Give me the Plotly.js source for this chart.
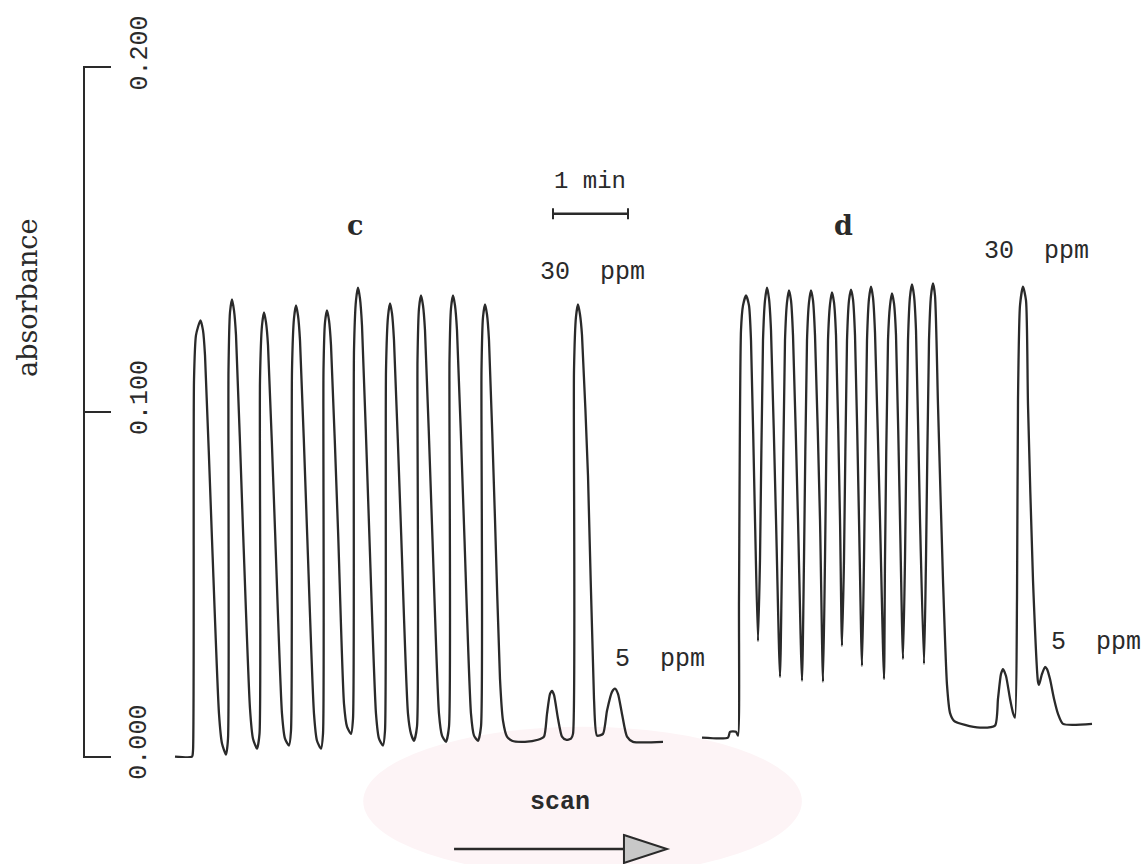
<!DOCTYPE html>
<html>
<head>
<meta charset="utf-8">
<script src="https://cdn.plot.ly/plotly-3.0.1.min.js"></script>
<style>html,body{margin:0;padding:0;background:#fff;}#chart{width:1147px;height:864px;}</style>
</head>
<body>
<div id="chart"></div>
<script>
// ---- data: time in seconds, absorbance ----
// run c: ten repeated 30 ppm injections, then 5 ppm, 30 ppm, 5 ppm
const cTime = [0,13.6,14.4,15.2,16.8,20.4,22.4,24.0,29.6,35.2,37.6,40.8,
  42.4,42.8,44.0,45.6,47.2,48.8,54.4,60.0,62.4,65.6,
  67.6,68.0,69.6,71.2,72.8,74.4,80.0,85.6,88.0,91.2,
  92.8,93.6,95.2,96.8,98.4,100.0,105.6,111.2,113.6,116.8,
  118.4,118.8,120.0,121.6,123.2,124.8,130.4,135.2,137.6,140.8,
  142.4,143.2,144.8,146.4,148.0,149.6,155.2,160.8,163.2,166.4,
  168.0,168.8,170.4,172.0,173.6,175.2,180.8,186.4,188.8,191.2,
  193.6,194.0,195.2,196.8,198.4,200.0,205.6,211.2,213.6,216.8,
  219.2,219.6,220.8,222.4,224.0,225.6,231.2,236.8,239.2,242.4,
  244.8,245.2,246.4,248.0,249.6,251.2,256.0,260.0,262.4,265.6,269.6,280.0,290.4,
  295.2,297.6,300.0,301.6,303.2,306.4,309.6,312.8,316.8,
  318.4,319.2,320.8,322.4,324.0,325.6,330.4,335.2,337.6,
  342.4,345.6,349.6,352.0,354.4,357.6,361.6,366.4,390.4];
const cAbs = [0,0,0.0017,0.1092,0.1223,0.1266,0.1237,0.1165,0.0630,0.0124,0.0038,0.0006,
  0.0052,0.1121,0.1289,0.1327,0.1295,0.1223,0.0659,0.0139,0.0052,0.0023,
  0.0066,0.1092,0.1251,0.1289,0.1260,0.1194,0.0659,0.0124,0.0052,0.0032,
  0.0075,0.1121,0.1272,0.1309,0.1280,0.1208,0.0659,0.0124,0.0046,0.0023,
  0.0066,0.1121,0.1260,0.1295,0.1266,0.1194,0.0659,0.0153,0.0087,0.0066,
  0.0110,0.1179,0.1324,0.1361,0.1329,0.1251,0.0673,0.0124,0.0052,0.0032,
  0.0075,0.1121,0.1277,0.1315,0.1286,0.1208,0.0659,0.0124,0.0066,0.0046,
  0.0087,0.1150,0.1301,0.1338,0.1309,0.1237,0.0673,0.0124,0.0061,0.0043,
  0.0087,0.1150,0.1301,0.1338,0.1309,0.1237,0.0673,0.0124,0.0061,0.0046,
  0.0087,0.1121,0.1275,0.1312,0.1283,0.1208,0.0688,0.0225,0.0104,0.0058,0.0046,0.0043,0.0049,
  0.0058,0.0124,0.0182,0.0191,0.0179,0.0110,0.0058,0.0049,0.0052,
  0.0066,0.1121,0.1277,0.1312,0.1283,0.1223,0.0815,0.0168,0.0061,
  0.0066,0.0133,0.0188,0.0197,0.0182,0.0124,0.0058,0.0043,0.0043];

// run d: ten repeated 30 ppm injections (faster), then 5 ppm, 30 ppm, 5 ppm
const dTime = [421.6,442.4,444.0,448.8,450.4,451.2,452.8,454.4,456.8,459.2,460.8,464.0,466.4,
  468.0,470.4,472.0,473.6,475.2,476.8,480.8,484.0,
  485.6,488.0,489.6,491.2,492.8,494.4,498.4,501.6,
  503.2,505.6,507.2,508.8,510.4,512.0,516.0,518.4,
  520.0,522.4,524.0,525.6,527.2,528.8,532.0,533.6,
  535.2,537.6,539.2,540.8,542.4,544.0,547.2,549.6,
  551.2,553.6,555.2,556.8,558.4,560.0,564.0,567.2,
  568.0,570.4,572.0,573.6,575.2,576.8,580.0,582.4,
  584.0,586.4,588.0,589.6,591.2,592.8,596.0,599.2,
  600.8,603.2,604.8,606.4,608.0,610.4,614.4,617.6,620.0,623.2,632.0,644.0,656.0,
  658.4,660.8,662.4,664.8,668.0,670.4,672.0,
  673.6,674.4,676.0,678.4,680.8,682.4,686.4,690.4,691.2,
  693.6,696.0,697.6,700.0,703.2,706.4,710.4,733.6];
const dAbs = [0.0055,0.0055,0.0072,0.0072,0.0061,0.0457,0.1237,0.1309,0.1338,0.1309,0.1208,0.0688,0.0335,
  0.0572,0.1208,0.1324,0.1361,0.1329,0.1237,0.0688,0.0231,
  0.0572,0.1208,0.1318,0.1353,0.1324,0.1223,0.0688,0.0220,
  0.0572,0.1208,0.1318,0.1353,0.1324,0.1223,0.0688,0.0217,
  0.0572,0.1208,0.1312,0.1347,0.1318,0.1223,0.0688,0.0321,
  0.0572,0.1208,0.1324,0.1355,0.1327,0.1223,0.0688,0.0263,
  0.0572,0.1208,0.1329,0.1364,0.1332,0.1231,0.0688,0.0225,
  0.0572,0.1208,0.1309,0.1344,0.1315,0.1223,0.0688,0.0283,
  0.0572,0.1208,0.1335,0.1370,0.1338,0.1237,0.0688,0.0269,
  0.0572,0.1208,0.1338,0.1373,0.1338,0.1020,0.0512,0.0208,0.0127,0.0104,0.0092,0.0084,0.0090,
  0.0168,0.0240,0.0254,0.0234,0.0168,0.0127,0.0113,
  0.0457,0.1035,0.1309,0.1364,0.1324,0.1020,0.0512,0.0217,0.0208,
  0.0240,0.0260,0.0254,0.0225,0.0168,0.0124,0.0095,0.0095];

const yTickVals = [0, 0.1, 0.2];
const yTickText = ['0.000', '0.100', '0.200'];
const scaleBarStart = 302.4;   // s
const scaleBarLength = 60;     // 1 min
const runLabels = ['c', 'd'];
const concLabels = ['30\u00a0\u00a0ppm', '5\u00a0\u00a0ppm'];

const ink = '#2a2a2a';
const mono = 'Liberation Mono, DejaVu Sans Mono, monospace';
const serif = 'DejaVu Serif, Liberation Serif, serif';

const traces = [
  {x: cTime, y: cAbs, type: 'scatter', mode: 'lines', name: 'c',
   line: {color: ink, width: 2.3, shape: 'spline', smoothing: 0.6}, hoverinfo: 'skip'},
  {x: dTime, y: dAbs, type: 'scatter', mode: 'lines', name: 'd',
   line: {color: ink, width: 2.3, shape: 'spline', smoothing: 0.6}, hoverinfo: 'skip'}
];

const tickLabelAnnotations = yTickVals.map((v, i) => ({
  xref: 'paper', yref: 'y', x: 0.0518, y: v, yshift: 14, xanchor: 'center', yanchor: 'middle',
  text: yTickText[i], textangle: -90,
  showarrow: false, font: {family: mono, size: 25, color: ink}
}));

const barY = 0.1575, capH = 0.0016;
const layout = {
  width: 1147, height: 864,
  margin: {l: 85, r: 0, t: 66, b: 106},
  paper_bgcolor: '#ffffff', plot_bgcolor: 'rgba(0,0,0,0)',
  showlegend: false,
  xaxis: {range: [-72, 777.6], visible: false, fixedrange: true},
  yaxis: {range: [-0.0004, 0.2004], tickvals: yTickVals, ticktext: yTickText,
    ticks: 'inside', ticklen: 26, tickwidth: 2, tickcolor: ink,
    showline: true, linecolor: ink, linewidth: 2, showgrid: false, zeroline: false,
    showticklabels: false, fixedrange: true},
  shapes: [
    {type: 'circle', xref: 'paper', yref: 'paper', x0: 0.262, x1: 0.675, y0: 0.045, y1: -0.17,
     fillcolor: '#fdf4f6', line: {width: 0}, layer: 'below'},
    {type: 'line', xref: 'x', yref: 'y', x0: scaleBarStart, x1: scaleBarStart + scaleBarLength, y0: barY, y1: barY,
     line: {color: ink, width: 2.5}},
    {type: 'line', xref: 'x', yref: 'y', x0: scaleBarStart, x1: scaleBarStart, y0: barY - capH, y1: barY + capH,
     line: {color: ink, width: 2}},
    {type: 'line', xref: 'x', yref: 'y', x0: scaleBarStart + scaleBarLength, x1: scaleBarStart + scaleBarLength, y0: barY - capH, y1: barY + capH,
     line: {color: ink, width: 2}},
    {type: 'line', xref: 'paper', yref: 'paper', x0: 0.3475, x1: 0.512, y0: -0.1315, y1: -0.1315,
     line: {color: ink, width: 2.5}},
    {type: 'path', xref: 'paper', yref: 'paper', path: 'M 0.5075 -0.1113 L 0.5480 -0.1315 L 0.5075 -0.1517 Z',
     fillcolor: '#c8c8c8', line: {color: ink, width: 2}}
  ],
  annotations: tickLabelAnnotations.concat([
    {xref: 'paper', yref: 'paper', x: -0.0536, y: 0.665, xanchor: 'center', yanchor: 'middle',
     text: 'absorbance', textangle: -90, showarrow: false,
     font: {family: serif, size: 27, color: ink}},
    {xref: 'x', yref: 'y', x: 144, y: 0.154, text: runLabels[0], showarrow: false,
     font: {family: serif, size: 27, color: ink, weight: 'bold'}},
    {xref: 'x', yref: 'y', x: 534.4, y: 0.154, text: runLabels[1], showarrow: false,
     font: {family: serif, size: 27, color: ink, weight: 'bold'}},
    {xref: 'x', yref: 'y', x: 332, y: 0.167, text: '1 min', showarrow: false,
     font: {family: mono, size: 24, color: ink}},
    {xref: 'x', yref: 'y', x: 333.6, y: 0.1405, text: concLabels[0], showarrow: false,
     font: {family: mono, size: 25, color: ink}},
    {xref: 'x', yref: 'y', x: 388, y: 0.0283, text: concLabels[1], showarrow: false,
     font: {family: mono, size: 25, color: ink}},
    {xref: 'x', yref: 'y', x: 688.8, y: 0.1465, text: concLabels[0], showarrow: false,
     font: {family: mono, size: 25, color: ink}},
    {xref: 'x', yref: 'y', x: 737, y: 0.0330, text: concLabels[1], showarrow: false,
     font: {family: mono, size: 25, color: ink}},
    {xref: 'paper', yref: 'paper', x: 0.447, y: -0.088, xanchor: 'center', text: 'scan', showarrow: false,
     font: {family: mono, size: 25, color: ink, weight: 'bold'}}
  ])
};

Plotly.newPlot('chart', traces, layout, {staticPlot: true, displayModeBar: false});
</script>
</body>
</html>
